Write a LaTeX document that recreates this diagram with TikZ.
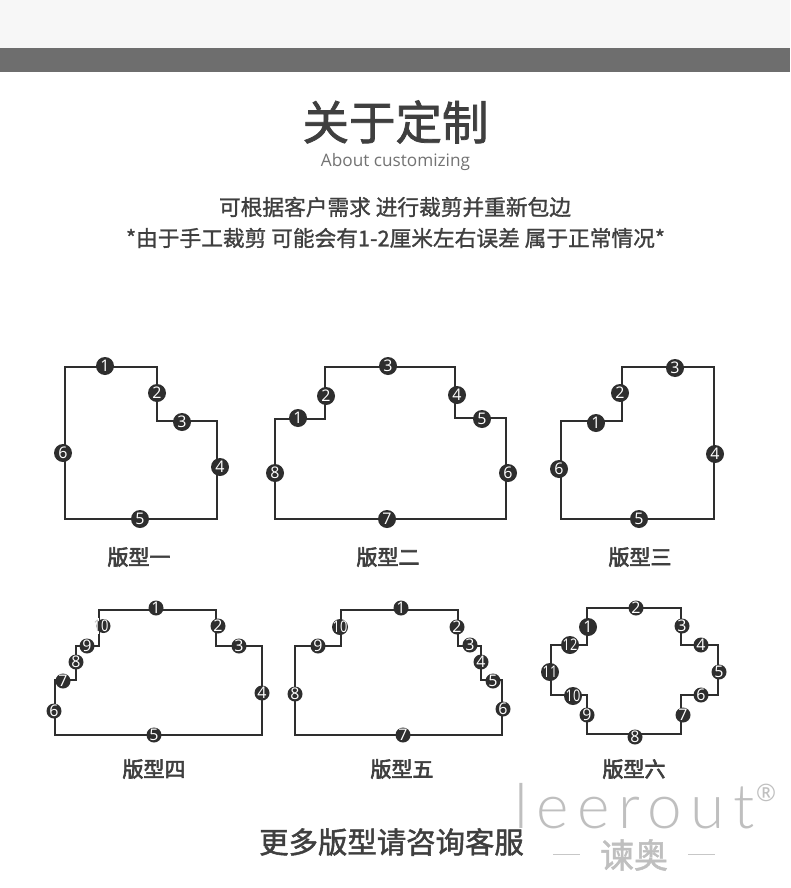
\documentclass[tikz,border=0pt]{standalone}
\usepackage{fontspec}
\setmainfont{Open Sans}
\newfontfamily\cond[FakeStretch=0.8]{Open Sans}
\newfontfamily\cjkw[FakeBold=1.5]{Noto Sans CJK SC}
\newfontfamily\cjkb[FakeBold=3]{Noto Sans CJK SC}
\newfontfamily\cjkt[FakeBold=1.6]{Noto Sans CJK SC}
\newfontfamily\cjkm[FakeBold=1.2]{Noto Sans CJK SC}
\newfontfamily\logo[LetterSpace=14]{Lato Light}
\definecolor{ink}{HTML}{2E2E2E}
\definecolor{txt}{HTML}{3F3F3F}
\newcommand{\dgt}[1]{\smash{\makebox[0pt]{\raisebox{-0.36em}{#1}}}}
\newcommand{\two}[1]{\smash{\makebox[0pt]{\raisebox{-0.36em}{\cond\fontsize{16}{16}\selectfont #1}}}}
\tikzset{
  outline/.style={draw=ink,line width=1.8pt,line join=miter},
  badge/.style={circle,fill=ink,text=white,inner sep=0pt,minimum size=#1,font=\fontsize{16}{16}\selectfont},
  badge/.default=15pt,
  big/.style={badge=18pt},
  shapelabel/.style={text=txt,inner sep=0pt,font=\cjkb\fontsize{21}{21}\selectfont},
  lead/.style={text=txt,inner sep=0pt,font=\cjkm\fontsize{21.7}{22}\selectfont},
  wmark/.style={inner sep=0pt,text=black!25},
}
\begin{document}
\begin{tikzpicture}[x=1pt,y=-1pt]
\useasboundingbox (0,0) rectangle (790,888);
\fill[white] (0,0) rectangle (790,888);
\fill[black!3] (0,0) rectangle (790,48);
\fill[black!57] (0,48) rectangle (790,72);
% headings
\node[text=txt,inner sep=0pt,font=\cjkt\fontsize{46.5}{47}\selectfont] (title) at (395.5,122) {关于定制};
\node[text=black!55,inner sep=0pt,font=\fontsize{17.2}{17}\selectfont] (sub) at (395.5,162) {About customizing};
\node[lead] (l1) at (395,207) {可根据客户需求 进行裁剪并重新包边};
\node[lead] (l2) at (395.5,238) {*由于手工裁剪 可能会有1-2厘米左右误差 属于正常情况*};
% shape 1
\draw[outline] (65,367)--(157,367)--(157,421)--(217,421)--(217,519)--(65,519)--cycle;
\node[big] (a1) at (105,366) {\dgt{1}};
\node[big] (a2) at (157,393) {\dgt{2}};
\node[big] (a3) at (182,422) {\dgt{3}};
\node[big] (a4) at (220,467) {\dgt{4}};
\node[big] (a5) at (140,519) {\dgt{5}};
\node[big] (a6) at (63,453) {\dgt{6}};
\node[shapelabel] (ca) at (139,557) {版型一};
% shape 2
\draw[outline] (275,419)--(325,419)--(325,367)--(455,367)--(455,418)--(506,418)--(506,519)--(275,519)--cycle;
\node[big] (b1) at (298,418) {\dgt{1}};
\node[big] (b2) at (326,396) {\dgt{2}};
\node[big] (b3) at (388,366) {\dgt{3}};
\node[big] (b4) at (457,395) {\dgt{4}};
\node[big] (b5) at (482,419) {\dgt{5}};
\node[big] (b6) at (508,473) {\dgt{6}};
\node[big] (b7) at (387,519) {\dgt{7}};
\node[big] (b8) at (275,473) {\dgt{8}};
\node[shapelabel] (cb) at (388,557) {版型二};
% shape 3
\draw[outline] (561,421)--(622,421)--(622,367)--(714,367)--(714,519)--(561,519)--cycle;
\node[big] (c1) at (596,423) {\dgt{1}};
\node[big] (c2) at (620,393) {\dgt{2}};
\node[big] (c3) at (675,368) {\dgt{3}};
\node[big] (c4) at (715,454) {\dgt{4}};
\node[big] (c5) at (639,519) {\dgt{5}};
\node[big] (c6) at (559,469) {\dgt{6}};
\node[shapelabel] (cc) at (640,557) {版型三};
% shape 4
\draw[outline] (99,610)--(216,610)--(216,646)--(262,646)--(262,735)--(55,735)--(55,680)--(76,680)--(76,646)--(99,646)--cycle;
\node[badge] (d1) at (156,608) {\dgt{1}};
\node[badge] (d2) at (218,626) {\dgt{2}};
\node[badge] (d3) at (239,646) {\dgt{3}};
\node[badge] (d4) at (262,693) {\dgt{4}};
\node[badge] (d5) at (154,735) {\dgt{5}};
\node[badge] (d6) at (54,711) {\dgt{6}};
\node[badge] (d7) at (63,681) {\dgt{7}};
\node[badge] (d8) at (76,662) {\dgt{8}};
\node[badge] (d9) at (87,646) {\dgt{9}};
\fill[white] (93,618) rectangle (98.5,634);
\node[badge=14pt] (d10) at (103.5,626) {};
\node[inner sep=0pt,text=white,font=\fontsize{16}{16}\selectfont] (d10t) at (101,626) {\two{\textcolor{black!25}{1}0}};
\node[shapelabel] (cd) at (154,769) {版型四};
% shape 5
\draw[outline] (341,610)--(458,610)--(458,646)--(481,646)--(481,680)--(502,680)--(502,735)--(295,735)--(295,646)--(341,646)--cycle;
\node[badge] (e1) at (401,608) {\dgt{1}};
\node[badge] (e2) at (457,627) {\dgt{2}};
\node[badge] (e3) at (470,645) {\dgt{3}};
\node[badge] (e4) at (481,662) {\dgt{4}};
\node[badge] (e5) at (493,681) {\dgt{5}};
\node[badge] (e6) at (503,709) {\dgt{6}};
\node[badge] (e7) at (403,735) {\dgt{7}};
\node[badge] (e8) at (295,694) {\dgt{8}};
\node[badge] (e9) at (318,646) {\dgt{9}};
\node[badge=16pt] (e10) at (340,627) {\two{10}};
\node[shapelabel] (ce) at (402,769) {版型五};
% shape 6
\draw[outline] (587,608)--(681,608)--(681,645)--(718,645)--(718,695)--(681,695)--(681,734)--(587,734)--(587,695)--(551,695)--(551,645)--(587,645)--cycle;
\node[big] (f1) at (588,627) {\dgt{1}};
\node[badge] (f2) at (636,608) {\dgt{2}};
\node[badge] (f3) at (682,626) {\dgt{3}};
\node[badge] (f4) at (701,645) {\dgt{4}};
\node[badge] (f5) at (719,672) {\dgt{5}};
\node[badge] (f6) at (701,695) {\dgt{6}};
\node[badge] (f7) at (683,715) {\dgt{7}};
\node[badge] (f8) at (635,737) {\dgt{8}};
\node[badge] (f9) at (587,715) {\dgt{9}};
\node[big] (f10) at (573,696) {\two{10}};
\node[big] (f11) at (550,672) {\two{11}};
\node[big] (f12) at (570,645) {\two{12}};
\node[shapelabel] (cf) at (634,769) {版型六};
% footer
\node[text=txt,inner sep=0pt,font=\cjkt\fontsize{29.4}{30}\selectfont] (more) at (391.5,842) {更多版型请咨询客服};
% watermark
\node[wmark,anchor=base west,font=\logo\fontsize{62}{62}\selectfont] (wm) at (514,828) {leerout};
\node[wmark,font=\fontsize{24}{24}\selectfont] (reg) at (766,793) {®};
\node[wmark,font=\cjkw\fontsize{34}{34}\selectfont] (wc) at (634,855) {谏奥};
\coordinate (w1) at (553,854);\coordinate (w2) at (580,854);
\coordinate (w3) at (688,854);\coordinate (w4) at (715,854);
\draw[black!22,line width=0.8pt] (w1)--(w2) (w3)--(w4);
\end{tikzpicture}
\end{document}
